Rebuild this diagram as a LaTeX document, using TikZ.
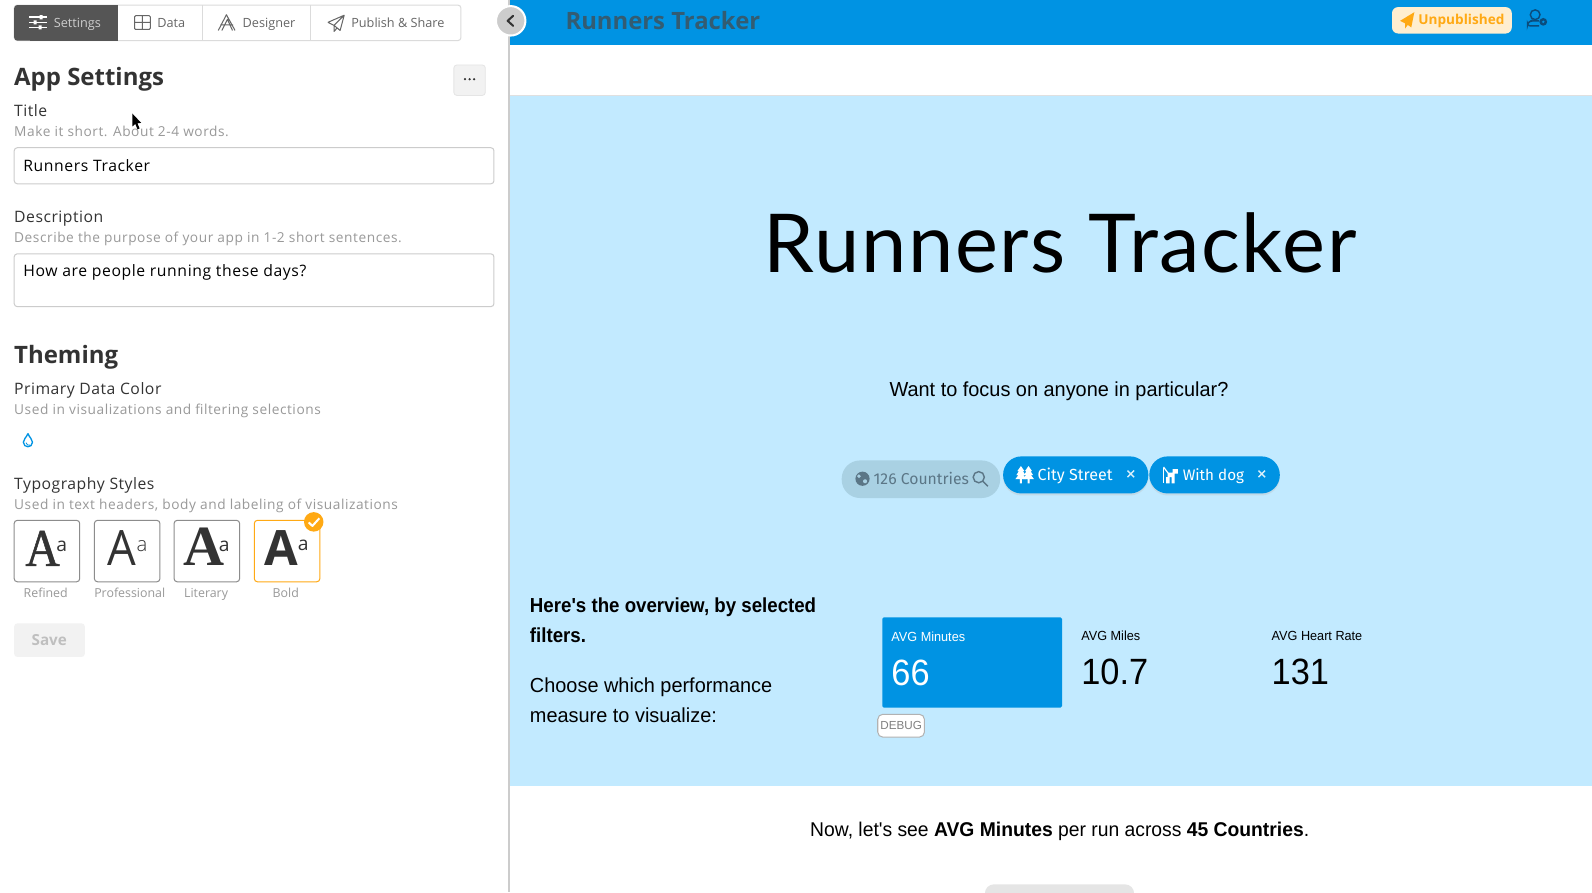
\documentclass[tikz,border=0pt]{standalone}
\usepackage{fontspec}
\setmainfont{Open Sans}
\newfontfamily\ws{Open Sans}
\newfontfamily\wsa{Open Sans}[LetterSpace=3.2]
\newfontfamily\wsc{Open Sans}[LetterSpace=3.8]
\newfontfamily\wsb{Open Sans}[LetterSpace=4]
\newfontfamily\rb{Liberation Sans}
\newfontfamily\rbq{Liberation Sans}[FakeStretch=0.98]
\newfontfamily\rbb{Liberation Sans}[FakeStretch=0.92]
\newfontfamily\rbn{Liberation Sans}[FakeStretch=0.97]
\newfontfamily\rbl{Liberation Sans}[FakeStretch=0.96]
\newfontfamily\rbv{Liberation Sans}[FakeStretch=0.94]
\newfontfamily\ttl{Lato}[LetterSpace=2]
\newfontfamily\rub{Fira Sans}
\newfontfamily\fserif{Liberation Serif}[FakeStretch=0.9,FakeBold=1]
\newfontfamily\fserifb{Liberation Serif}
\newfontfamily\fnarrow{Open Sans}[FakeStretch=0.93]
\newfontfamily\flight{Open Sans Light}
\newcommand{\fs}[1]{\fontsize{#1}{#1}\selectfont}
\definecolor{hdr}{HTML}{0093E3}
\definecolor{pale}{HTML}{C2EAFF}
\definecolor{dk}{HTML}{333333}
\definecolor{sub}{HTML}{999999}
\definecolor{edge}{HTML}{CCCCCC}
\definecolor{orng}{HTML}{FFA914}
\definecolor{tabd}{HTML}{555555}
\definecolor{tabt}{HTML}{666666}
\definecolor{chipg}{HTML}{A9D1E3}
\definecolor{chipt}{HTML}{5B7686}
\definecolor{navy}{HTML}{0B4C7C}
\tikzset{
 x=1pt,y=-1pt,
 txt/.style={anchor=base west,inner sep=0pt,outer sep=0pt},
 mid/.style={anchor=base,inner sep=0pt,outer sep=0pt},
 tabl/.style={txt,font=\ws\fs{12.5},text=tabt},
 lbl/.style={txt,font=\wsa\fs{15.5},text=dk},
 hint/.style={txt,font=\wsb\fs{13.5},text=sub},
 head/.style={txt,font=\ws\bfseries\fs{23.6},text=dk},
 field/.style={draw=edge,line width=1pt,rounded corners=3pt,fill=white},
 tile/.style={draw=#1,line width=1pt,rounded corners=3pt,fill=white},
 capt/.style={mid,font=\ws\fs{12.2},text=sub},
 ico/.style={draw=tabt,line width=1pt,line join=round},
 body/.style={txt,font=\rbq\fs{20},text=black},
 mlab/.style={txt,font=\rbl\fs{13},text=black},
 mval/.style={txt,font=\rbv\fs{36},text=black},
}
\begin{document}
\begin{tikzpicture}
\clip (0,0) rectangle (1568,878.6);
\fill[white] (0,0) rectangle (1568,878.6);
% right panel
\fill[hdr] (502,0) rectangle (1568,44);
\fill[pale] (502,94) rectangle (1568,774);
\draw[edge!60,line width=.6pt] (502,94) -- (1568,94);
\fill[edge] (500,0) rectangle (502.5,878.6);
% tabs
\draw[edge!70,line width=1pt,rounded corners=3pt,fill=white] (14,5) rectangle (454,40);
\fill[tabd,rounded corners=3pt] (14,5) rectangle (60,40);
\fill[tabd] (30,5) rectangle (116,40);
\draw[edge!70,line width=1pt] (199,5) -- (199,40) (306,5) -- (306,40);
\draw[white,line width=1.6pt] (29,17) -- (46,17) (29,22) -- (46,22) (29,27) -- (46,27);
\fill[white] (39,15) rectangle (42,19) (33,20) rectangle (36,24) (38,25) rectangle (41,29);
\node[tabl,text=edge] (tabS) at (53,27) {Settings};
\draw[ico,rounded corners=1pt] (132.5,15.5) rectangle (148,29) (140.2,15.5) -- (140.2,29) (132.5,22) -- (148,22);
\node[tabl] (tabD) at (155,27) {Data};
\draw[ico] (215,30) -- (223,14.5) -- (231.5,30) (218.5,30) -- (224,19) -- (229,30) (217,24.5) -- (229.5,24.5);
\node[tabl] (tabG) at (239,27) {Designer};
\draw[ico] (323,22) -- (339,15) -- (335,30) -- (329,25) -- (323,22) (339,15) -- (329,25) -- (329,31) -- (332,27.5);
\node[tabl] (tabP) at (346,27) {Publish \& Share};
% collapse button
\draw[white,fill=edge,line width=2pt] (503,20.5) circle (14.5);
\draw[dk,line width=2pt,line cap=round,line join=round] (505.5,15.5) -- (500,20.5) -- (505.5,25.5);
% settings
\node[head] (appS) at (14,84) {App Settings};
\draw[edge!50,line width=.8pt,fill=black!5,rounded corners=3pt] (447,64) rectangle (478,94);
\foreach \dx in {458,462.5,467} \fill[dk] (\dx,78) circle (1.2);
\node[lbl] (tT) at (14,114.7) {Title};
\node[hint] (tH) at (14,134) {Make it short. About 2-4 words.};
\draw[field] (14,145.5) rectangle (486.5,181);
\node[txt,font=\wsc\fs{15.5},text=black] (tV) at (23,169.3) {Runners Tracker};
\fill[black] (130.5,112) -- (130.5,124.5) -- (133.3,122) -- (135.5,127.5) -- (137.5,126.5) -- (135.3,121.5) -- (139,121) -- cycle;
\node[lbl] (dT) at (14,219) {Description};
\node[hint] (dH) at (14,239) {Describe the purpose of your app in 1-2 short sentences.};
\draw[field] (14,250) rectangle (486.5,302);
\node[txt,font=\wsc\fs{15.5},text=black] (dV) at (23,272) {How are people running these days?};
\node[head] (thm) at (14,358) {Theming};
\node[lbl] (cT) at (14,388.7) {Primary Data Color};
\node[hint] (cH) at (14,408) {Used in visualizations and filtering selections};
\draw[hdr,line width=1.3pt,line join=round] (27.5,427) .. controls (26,431) and (23,432.5) .. (23,435.5) .. controls (23,441.5) and (32,441.5) .. (32,435.5) .. controls (32,432.5) and (29,431) .. (27.5,427);
\draw[hdr,line width=.8pt] (25.5,436) .. controls (26,438) and (28,439) .. (30,438.5);
\node[lbl] (yT) at (14,482) {Typography Styles};
\node[hint] (yH) at (14,502) {Used in text headers, body and labeling of visualizations};
% type tiles
\draw[tile=black!45] (14,512.5) rectangle (78.5,573);
\draw[tile=black!45] (93,512.5) rectangle (157.5,573);
\draw[tile=black!45] (171.5,512.5) rectangle (236,573);
\draw[tile=orng] (250.5,512.5) rectangle (315,573);
\node[txt,font=\fserif\fs{52},text=dk] (a1) at (25,557.3) {A\kern-3.3pt\raisebox{13.9pt}{\ws\fs{19}a}};
\node[txt,font=\fnarrow\fs{48},text=dk] (a2) at (105.5,557.3) {A};
\node[txt,font=\flight\fs{20},text=dk] (b2) at (134.5,543) {a};
\node[txt,font=\fserifb\bfseries\fs{56},text=dk] (a3) at (181,557.3) {A\kern-5.9pt\raisebox{13.9pt}{\ws\mdseries\fs{19}a}};
\node[txt,font=\ws\bfseries\fs{48},text=dk] (a4) at (260.5,557.3) {A};
\node[txt,font=\ws\fs{19},text=dk] (b4) at (293.3,542) {a};
\node[capt] (c1) at (45,588) {Refined};
\node[capt] (c2) at (127.8,588) {Professional};
\node[capt] (c3) at (203,588) {Literary};
\node[capt] (c4) at (281.5,588) {Bold};
\fill[orng] (309,514) circle (9.6);
\draw[white,line width=2pt,line join=round] (304,514.5) -- (307.7,518) -- (314.5,510.5);
\fill[black!5,rounded corners=3pt] (14,614) rectangle (83.5,647);
\node[mid,font=\ws\bfseries\fs{15},text=black!25] (sv) at (48.5,635.5) {Save};
% header contents
\node[txt,font=\ws\bfseries\fs{23.5},text=hdr!35!black!80!white] (hT) at (557,29.5) {Runners Tracker};
\fill[orng!20!white,rounded corners=6pt] (1371,7) rectangle (1489,33);
\fill[orng] (1379,20.5) -- (1393,12) -- (1390,27) -- (1386.5,24.5) -- (1384,28) -- (1384,23) -- cycle;
\node[txt,font=\ws\bfseries\fs{13.4},text=orng] (hP) at (1397,24) {Unpublished};
\draw[navy,line width=1.4pt] (1512,14.5) circle (4.8);
\draw[navy,line width=1.4pt,rounded corners=2.5pt] (1516,25.5) -- (1504.5,25.5) -- (1504.5,22.5) -- (1508,20.5) -- (1516,20.5);
\fill[navy] (1520,21.5) circle (3.8);
\fill[hdr] (1520,21.5) circle (1.3);
% title
\node[mid,font=\ttl\fs{80},text=black] (big) at (1044,268) {Runners Tracker};
\node[mid,font=\rbq\fs{20},text=black] (q) at (1043,391) {Want to focus on anyone in particular?};
% chips
\fill[chipg,rounded corners=18pt] (829,453.5) rectangle (985,490.5);
\fill[black!25,opacity=.35,rounded corners=18pt] (988,451) rectangle (1131,488);
\fill[black!25,opacity=.35,rounded corners=18pt] (1132,451) rectangle (1260.5,488);
\fill[hdr,rounded corners=18pt] (988,449.5) rectangle (1131,486);
\fill[hdr,rounded corners=18pt] (1132,449.5) rectangle (1260.5,486);
\fill[chipt] (849.5,471.5) circle (7);
\fill[chipg] (846,469) circle (1.9) (852,474) circle (2);
\node[txt,font=\rub\fs{15.5},text=chipt] (c126) at (860.5,477) {126 Countries};
\draw[chipt,line width=1.4pt] (964,470) circle (5.5) (968,474) -- (973,479);
\foreach \tx in {1005.5,1013} \fill[white] (\tx,459) -- (\tx+3.5,464) -- (\tx+2,464) -- (\tx+4.5,468) -- (\tx+2.5,468) -- (\tx+5.5,472) -- (\tx+1,472) -- (\tx+1,476) -- (\tx-1,476) -- (\tx-1,472) -- (\tx-5.5,472) -- (\tx-2.5,468) -- (\tx-4.5,468) -- (\tx-2,464) -- (\tx-3.5,464) -- cycle;
\node[txt,font=\rub\fs{15.8},text=white] (cS) at (1022,473) {City Street};
\draw[white!85!hdr,line width=1.4pt] (1110.5,463.5) -- (1117,470) (1117,463.5) -- (1110.5,470);
\fill[white] (1150,465.5) rectangle (1157,470) (1148.5,470) rectangle (1152,476) (1154,470) rectangle (1157,476) (1155,462) rectangle (1160,466.5);
\draw[white,line width=1.2pt] (1146,460) -- (1150.5,466);
\draw[white,line width=1.2pt] (1146,460.5) -- (1146,476);
\node[txt,font=\rub\fs{15},text=white] (cD) at (1165,473) {With dog};
\draw[white!85!hdr,line width=1.4pt] (1239.5,463.5) -- (1246,470) (1246,463.5) -- (1239.5,470);
% lower block
\node[body,font=\rbb\bfseries\fs{20}] (o1) at (522,603) {Here's the overview, by selected};
\node[body,font=\rbb\bfseries\fs{20}] (o2) at (522,633) {filters.};
\node[body] (o3) at (522,682) {Choose which performance};
\node[body] (o4) at (522,711.5) {measure to visualize:};
\fill[hdr,rounded corners=1.5pt] (869,608) rectangle (1046,697);
\node[mlab,text=white] (m1) at (878,632) {AVG Minutes};
\node[mval,text=white] (v1) at (878,675) {66};
\node[mlab] (m2) at (1065,631) {AVG Miles};
\node[mval] (v2) at (1065,674) {10.7};
\node[mlab] (m3) at (1252.5,631) {AVG Heart Rate};
\node[mval] (v3) at (1252.5,674) {131};
\draw[black!30,fill=white,line width=1pt,rounded corners=5pt] (864.5,703.5) rectangle (910.5,726);
\node[mid,font=\rb\fs{11.5},text=black!50] (dbg) at (887.5,718.5) {DEBUG};
\node[mid,font=\rbn\fs{19.6},text=black] (now) at (1043.7,824) {Now, let's see \textbf{AVG Minutes} per run across \textbf{45 Countries}.};
\fill[black!10,rounded corners=9pt] (970,871) rectangle (1117,900);
\end{tikzpicture}
\end{document}
